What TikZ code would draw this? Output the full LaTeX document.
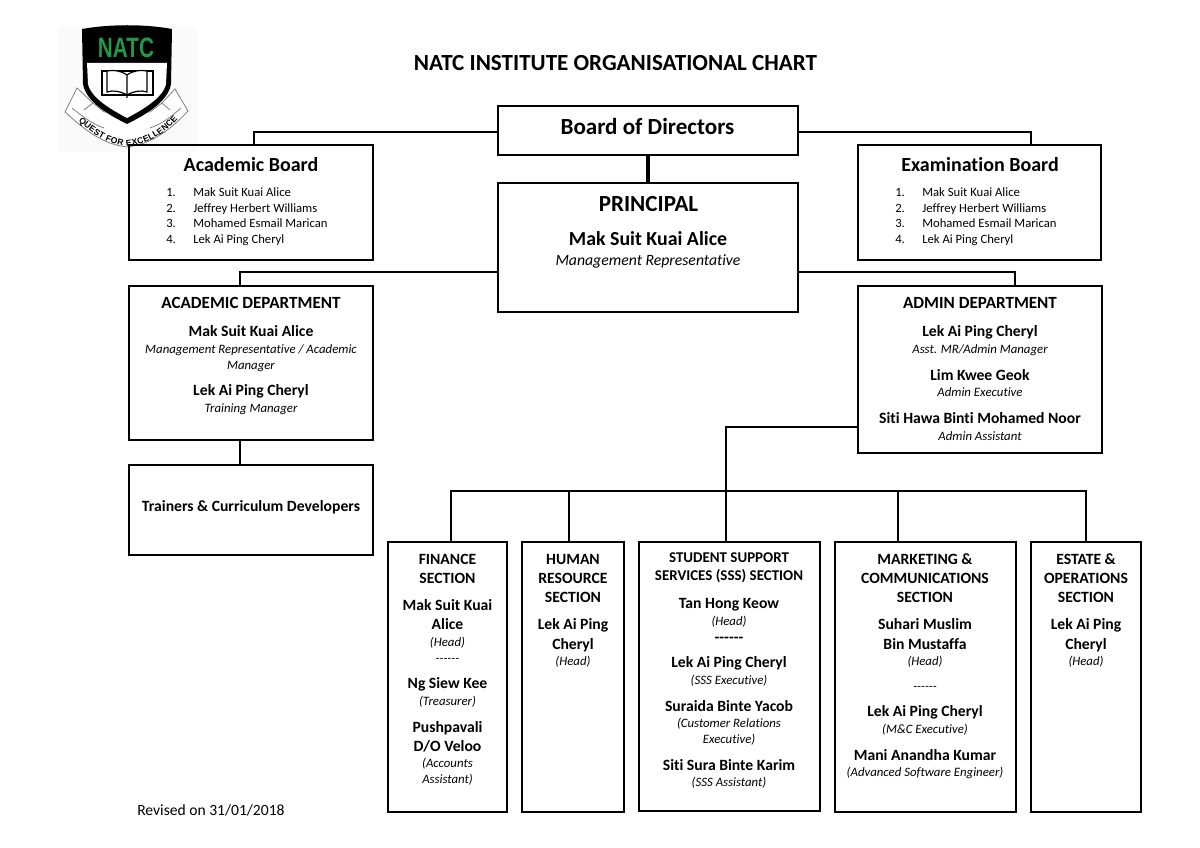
\documentclass[tikz,border=0pt]{standalone}
\usepackage{fontspec}
\setmainfont[Ligatures=NoCommon]{Carlito}
\newfontfamily\logofont{Liberation Sans}
\usetikzlibrary{positioning,decorations.text}
\definecolor{natcgreen}{HTML}{1E9A4A}
\newcommand{\sixdash}{-{}-{}-{}-{}-{}-}

\begin{document}
\begin{tikzpicture}[
        x=0.75pt, y=-0.75pt,
        % Define styles for different components
        box/.style={draw, rectangle, line width=1.8pt, inner sep=0pt, outer sep=0pt},
        size/.style 2 args={minimum width=#1*0.75pt, minimum height=#2*0.75pt},
        link/.style={line width=1.9pt},
        heavy/.style={line width=3pt},
        line/.style={inner sep=0pt, anchor=base, yshift=-#1pt},
        bigtext/.style={line=4.8, font=\fontsize{15}{18}\selectfont\bfseries},
        hugetext/.style={line=5.5, font=\fontsize{17.3}{20}\selectfont\bfseries},
        depttext/.style={line=4.1, font=\fontsize{12.8}{15}\selectfont\bfseries},
        nametext/.style={line=3.75, font=\fontsize{11.75}{14}\selectfont\bfseries},
        ssstext/.style={line=3.6, font=\fontsize{11.2}{14}\selectfont\bfseries},
        roletext/.style={line=3, font=\fontsize{9.6}{11}\selectfont\itshape},
        listtext/.style={line=3, font=\fontsize{9.5}{11}\selectfont},
    ]
    \useasboundingbox (0,0) rectangle (1200,848);

    % Logo
    \fill[white!98!black] (58,27) rectangle (197,152);
    \draw[gray, fill=white, line width=0.6pt] (77,88) -- (65,112) .. controls (85,130) and (102,144) .. (127,147)
        .. controls (152,144) and (170,130) .. (188,111) -- (175,89) -- (162,103) -- (150,112) -- (104,112) -- (93,103) -- cycle;
    \draw[gray, line width=0.6pt] (72,108) .. controls (82,116) and (92,124) .. (104,128);
    \draw[gray, line width=0.6pt] (181,108) .. controls (172,116) and (162,124) .. (150,128);
    \draw[gray, line width=0.6pt] (93,103) -- (84,110) (162,103) -- (170,110);
    \fill[black] (82,29) .. controls (110,24) and (145,24) .. (172,29) -- (171,84) .. controls (168,102) and (145,115) .. (127,124)
        .. controls (109,115) and (86,102) .. (83,84) -- cycle;
    \fill[white] (87,63) -- (167,63) -- (166,84) .. controls (163,98) and (142,110) .. (127,118)
        .. controls (112,110) and (91,98) .. (88,84) -- cycle;
    \node[font=\logofont\bfseries\fontsize{21}{21}\selectfont, text=natcgreen, xscale=0.74] (logoname) at (126,48) {NATC};
    \draw[black, line width=0.9pt] (102,71) rectangle (153,95);
    \draw[black, line width=0.9pt, fill=white] (127,75) .. controls (120,70) and (113,70) .. (107,71) -- (107,92) .. controls (113,90) and (120,91) .. (127,95)
        .. controls (134,91) and (141,90) .. (147,92) -- (147,71) .. controls (141,70) and (134,70) .. (127,75) -- (127,98);
    \path[decorate, decoration={text along path, text align=center, raise=-2.5pt,
        text={|\logofont\bfseries\fontsize{6.4}{7}\selectfont|QUEST FOR EXCELLENCE}}]
        (74,113) .. controls (92,130) and (105,140) .. (127,143) .. controls (150,140) and (165,130) .. (181,110);

    % Heading
    \node[hugetext] (heading) at (615.5,63.5) {NATC INSTITUTE ORGANISATIONAL CHART};
    \node[listtext, font=\fontsize{11.7}{14}\selectfont, anchor=base west] (revised) at (137,811) {Revised on 31/01/2018};

    % Place the boxes
    \node[box, size={300}{49}] (board) at (648,130.5) {};
    \node[box, size={300}{129}] (principal) at (648,247.5) {};
    \node[box, size={244}{115}] (acboard) at (251,202.5) {};
    \node[box, size={243}{115}] (exboard) at (979.5,202.5) {};
    \node[box, size={244}{154}] (acdept) at (251,363) {};
    \node[box, size={244}{167}] (addept) at (980,369.5) {};
    \node[box, size={244}{90}] (trainers) at (251,510) {};
    \node[box, size={119}{270}] (finance) at (447.5,677) {};
    \node[box, size={102}{270}] (hr) at (573,677) {};
    \node[box, size={181}{269}] (sss) at (729.5,676.5) {};
    \node[box, size={181}{270}] (marketing) at (925.5,677) {};
    \node[box, size={110}{270}] (estate) at (1086,677) {};

    % Text in the upper boxes
    \node[hugetext] (boardtext) at (647.5,127) {Board of Directors};
    \node[bigtext] (achead) at (251,165) {Academic Board};
    \node[bigtext] (exhead) at (980,165) {Examination Board};
    \node[hugetext] (printitle) at (648.5,204) {PRINCIPAL};
    \node[line=4.7, font=\fontsize{14.9}{18}\selectfont\bfseries] (prinname) at (648,239) {Mak Suit Kuai Alice};
    \node[line=3.7, font=\fontsize{11.8}{14}\selectfont\itshape] (prinrole) at (648,261) {Management Representative};

    % Member lists
    \foreach \xpos/\group in {166/ac,895/ex} {
        \foreach \n/\ypos/\member in {1/193/Mak Suit Kuai Alice,2/209/Jeffrey Herbert Williams,3/224/Mohamed Esmail Marican,4/240/Lek Ai Ping Cheryl} {
            \node[listtext, anchor=base west] (\group num\n) at (\xpos,\ypos) {\n.};
            \node[listtext, anchor=base west] (\group mem\n) at (\xpos+27,\ypos) {\member};
        }
    }

    % Department columns
    \foreach \ypos/\txt/\sty in {303/ACADEMIC DEPARTMENT/depttext,332/Mak Suit Kuai Alice/nametext,350/{Management Representative / Academic}/roletext,366/Manager/roletext,391/Lek Ai Ping Cheryl/nametext,409/Training Manager/roletext} {
        \node[\sty] (acd\ypos) at (251,\ypos) {\txt};
    }
    \foreach \ypos/\txt/\sty in {303/ADMIN DEPARTMENT/depttext,332/Lek Ai Ping Cheryl/nametext,350/{Asst. MR/Admin Manager}/roletext,376/Lim Kwee Geok/nametext,393/Admin Executive/roletext,419/Siti Hawa Binti Mohamed Noor/nametext,437/Admin Assistant/roletext} {
        \node[\sty] (add\ypos) at (980,\ypos) {\txt};
    }
    \node[nametext] (trainertext) at (251,507) {Trainers \& Curriculum Developers};

    % Section columns
    \foreach \ypos/\txt/\sty in {559/FINANCE/nametext,578/SECTION/nametext,605/Mak Suit Kuai/nametext,624/Alice/nametext,642/(Head)/roletext,658/\sixdash/roletext,683/Ng Siew Kee/nametext,701/(Treasurer)/roletext,727/Pushpavali/nametext,746/{D/O Veloo}/nametext,763/(Accounts/roletext,779/Assistant)/roletext} {
        \node[\sty] (fin\ypos) at (447.5,\ypos) {\txt};
    }
    \foreach \ypos/\txt/\sty in {559/HUMAN/nametext,578/RESOURCE/nametext,597/SECTION/nametext,624/Lek Ai Ping/nametext,644/Cheryl/nametext,661/(Head)/roletext} {
        \node[\sty] (hrs\ypos) at (573,\ypos) {\txt};
    }
    \foreach \ypos/\txt/\sty in {558/STUDENT SUPPORT/ssstext,576/SERVICES (SSS) SECTION/ssstext,603/Tan Hong Keow/nametext,621/(Head)/roletext,637/\sixdash/nametext,662/Lek Ai Ping Cheryl/nametext,680/(SSS Executive)/roletext,706/Suraida Binte Yacob/nametext,723/(Customer Relations/roletext,739/Executive)/roletext,765/Siti Sura Binte Karim/nametext,782/(SSS Assistant)/roletext} {
        \node[\sty] (sss\ypos) at (729,\ypos) {\txt};
    }
    \foreach \ypos/\txt/\sty in {559/MARKETING \&/nametext,578/COMMUNICATIONS/nametext,597/SECTION/nametext,624/Suhari Muslim/nametext,644/Bin Mustaffa/nametext,661/(Head)/roletext,686/\sixdash/roletext,711/Lek Ai Ping Cheryl/nametext,729/(M\&C Executive)/roletext,755/Mani Anandha Kumar/nametext,772/(Advanced Software Engineer)/roletext} {
        \node[\sty] (mkt\ypos) at (925,\ypos) {\txt};
    }
    \foreach \ypos/\txt/\sty in {559/ESTATE \&/nametext,578/OPERATIONS/nametext,597/SECTION/nametext,624/Lek Ai Ping/nametext,644/Cheryl/nametext,661/(Head)/roletext} {
        \node[\sty] (est\ypos) at (1086,\ypos) {\txt};
    }

    % Draw connections
    \coordinate (busjoin) at (726,491);
    \coordinate (busleft) at (451,491);
    \coordinate (busright) at (1086,491);
    \draw[heavy] (board) -- (principal);
    \draw[link] (board.west |- 0,132) -| ([xshift=2.25pt]acboard.north);
    \draw[link] (board.east |- 0,132) -| ([xshift=38.6pt]exboard.north);
    \draw[link] (principal.west |- 0,272) -| ([xshift=-8.25pt]acdept.north);
    \draw[link] (principal.east |- 0,272) -| ([xshift=26.25pt]addept.north);
    \draw[link] (acdept.south -| 240,0) -- (trainers.north -| 240,0);
    \draw[link] (addept.west |- 0,427) -| (busjoin);
    \draw[link, line cap=rect] (busleft) -- (busright);
    \foreach \target/\xpos in {finance/451,hr/569,sss/726,marketing/898,estate/1086} {
        \draw[link] (\xpos,491) -- (\target.north -| \xpos,0);
    }

\end{tikzpicture}
\end{document}
